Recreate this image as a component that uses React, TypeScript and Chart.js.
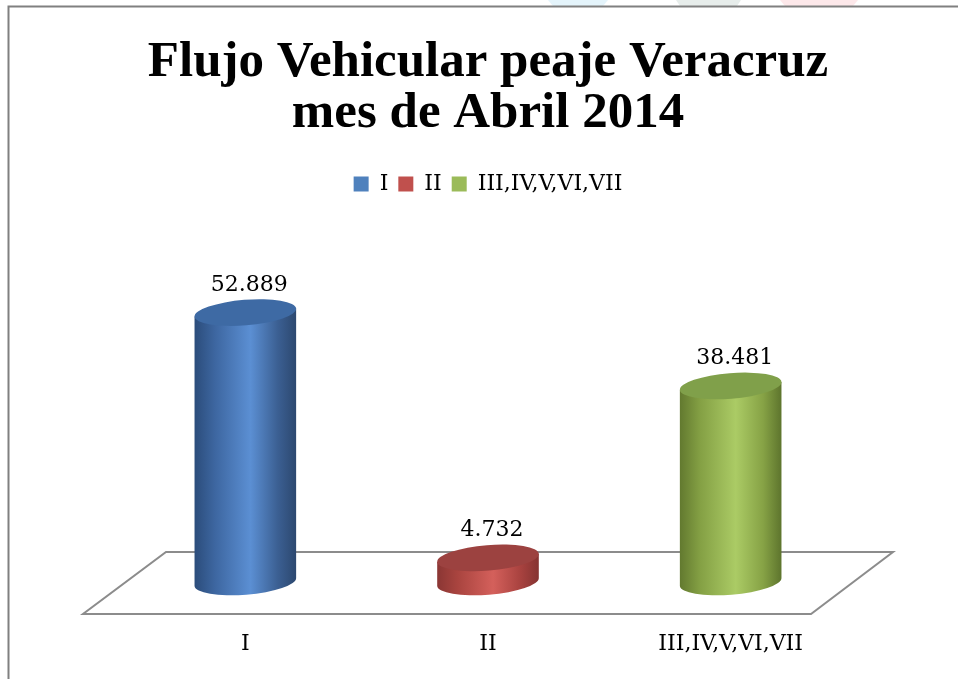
import React, { useEffect, useRef } from 'react';
import { Chart, registerables } from 'chart.js';

Chart.register(...registerables);

const categories = ['I', 'II', 'III,IV,V,VI,VII'];
const values = [52.889, 4.732, 38.481];
const valueLabels = ['52.889', '4.732', '38.481'];
const titleLines = ['Flujo Vehicular peaje Veracruz', 'mes de Abril 2014'];
const legendColors = ['#4f81bd', '#c0504d', '#9bbb59'];
const Y_MAX = 74;

const palettes = [
  { d1: '#2b4c7a', d2: '#3d66a0', l: '#5b8fd3', d3: '#3b5f92', d4: '#2c486f', top: '#3e6aa4' },
  { d1: '#8a3634', d2: '#a9443f', l: '#d4605b', d3: '#a8423f', d4: '#853331', top: '#9c4240' },
  { d1: '#62792f', d2: '#84a044', l: '#abcb65', d3: '#86a245', d4: '#5d742d', top: '#80a04a' },
];

const SERIF = "'DejaVu Serif', serif";

function drawCylinder(ctx: CanvasRenderingContext2D, cx: number, yTop: number, yBase: number, rx: number, ry: number, rot: number, p: any) {
  const g = ctx.createLinearGradient(cx - rx, 0, cx + rx, 0);
  g.addColorStop(0, p.d1);
  g.addColorStop(0.2, p.d2);
  g.addColorStop(0.55, p.l);
  g.addColorStop(0.82, p.d3);
  g.addColorStop(1, p.d4);
  const c = Math.cos(rot), s = Math.sin(rot);
  ctx.save();
  ctx.beginPath();
  ctx.moveTo(cx - rx * c, yTop - rx * s);
  ctx.lineTo(cx - rx * c, yBase - rx * s);
  ctx.ellipse(cx, yBase, rx, ry, rot, Math.PI, 0, true);
  ctx.lineTo(cx + rx * c, yTop + rx * s);
  ctx.closePath();
  ctx.fillStyle = g;
  ctx.fill();
  ctx.beginPath();
  ctx.ellipse(cx, yTop, rx, ry, rot, 0, Math.PI * 2);
  ctx.fillStyle = p.top;
  ctx.fill();
  ctx.restore();
}

const scenePlugin = {
  id: 'scene',
  beforeDraw(chart: any) {
    const { ctx, width, height } = chart;
    ctx.save();
    ctx.fillStyle = '#ffffff';
    ctx.fillRect(0, 0, width, height);
    const marks: [string, number[]][] = [
      ['#e4f4fb', [548, 0, 608, 0, 603, 6, 553, 6]],
      ['#e7edeb', [676, 0, 741, 0, 737, 6, 680, 6]],
      ['#fde8ea', [780, 0, 858, 0, 853, 6, 785, 6]],
    ];
    marks.forEach(([col, pts]) => {
      ctx.beginPath();
      ctx.moveTo(pts[0], pts[1]);
      for (let i = 2; i < pts.length; i += 2) ctx.lineTo(pts[i], pts[i + 1]);
      ctx.closePath();
      ctx.fillStyle = col;
      ctx.fill();
    });
    ctx.strokeStyle = '#808080';
    ctx.lineWidth = 2;
    ctx.strokeRect(8.5, 6.5, width + 20, height + 20);
    ctx.restore();
  },
  beforeDatasetsDraw(chart: any) {
    const { ctx, chartArea } = chart;
    const base = chart.scales.y.getPixelForValue(0);
    const back = base - 30, front = base + 32;
    ctx.save();
    ctx.beginPath();
    ctx.moveTo(chartArea.left + 42, back);
    ctx.lineTo(chartArea.right + 41, back);
    ctx.lineTo(chartArea.right - 41, front);
    ctx.lineTo(chartArea.left - 41, front);
    ctx.closePath();
    ctx.fillStyle = '#ffffff';
    ctx.fill();
    ctx.strokeStyle = '#8c8c8c';
    ctx.lineWidth = 2;
    ctx.stroke();
    ctx.restore();
  },
  afterDatasetsDraw(chart: any) {
    const { ctx } = chart;
    const meta = chart.getDatasetMeta(0);
    meta.data.forEach((bar: any, i: number) => {
      const { x, y, base, width } = bar.getProps(['x', 'y', 'base', 'width'], true);
      const rx = width / 2;
      const ry = rx * 0.25;
      drawCylinder(ctx, x, y, base, rx, ry, -0.08, palettes[i]);
      ctx.save();
      ctx.fillStyle = '#000000';
      ctx.font = `22px ${SERIF}`;
      ctx.textAlign = 'center';
      ctx.textBaseline = 'alphabetic';
      ctx.fillText(valueLabels[i], x + 4, y - ry - 9);
      ctx.restore();
    });
  },
};

export default function App() {
  const ref = useRef<HTMLCanvasElement>(null);
  useEffect(() => {
    const canvas = ref.current as HTMLCanvasElement;
    const chart = new Chart(canvas, {
      type: 'bar',
      data: {
        labels: categories,
        datasets: [
          {
            label: 'Flujo',
            data: values,
            backgroundColor: 'rgba(0,0,0,0)',
            borderWidth: 0,
            barPercentage: 0.42,
            categoryPercentage: 1,
          },
        ],
      },
      options: {
        responsive: false,
        animation: false,
        devicePixelRatio: 1,
        layout: { padding: { left: 124, right: 106, top: 37, bottom: 0 } },
        plugins: {
          title: {
            display: true,
            text: titleLines,
            color: '#000000',
            font: { family: "'Liberation Serif', serif", weight: 'bold', size: 51, lineHeight: 1.0 },
            padding: { top: 0, bottom: 24 },
          },
          legend: {
            position: 'top',
            labels: {
              boxWidth: 15,
              boxHeight: 15,
              padding: 10,
              color: '#000000',
              font: { family: SERIF, size: 22 },
              generateLabels: () =>
                categories.map((c, i) => ({
                  text: c,
                  fillStyle: legendColors[i],
                  strokeStyle: legendColors[i],
                  lineWidth: 0,
                  hidden: false,
                  fontColor: '#000000',
                  index: i,
                  datasetIndex: 0,
                })),
            },
          },
          tooltip: { enabled: false },
        },
        scales: {
          x: {
            grid: { display: false, drawTicks: false },
            border: { display: false },
            ticks: { color: '#000000', font: { family: SERIF, size: 22 }, padding: 49 },
            afterFit: (scale: any) => {
              scale.height = 97;
            },
          },
          y: { display: false, min: 0, max: Y_MAX },
        },
      },
      plugins: [scenePlugin],
    } as any);
    return () => chart.destroy();
  }, []);
  return (
    <div style={{ position: 'fixed', left: 0, top: 0, width: 958, height: 679, background: '#fff' }}>
      <canvas ref={ref} width={958} height={679} style={{ display: 'block', width: 958, height: 679 }} />
    </div>
  );
}
